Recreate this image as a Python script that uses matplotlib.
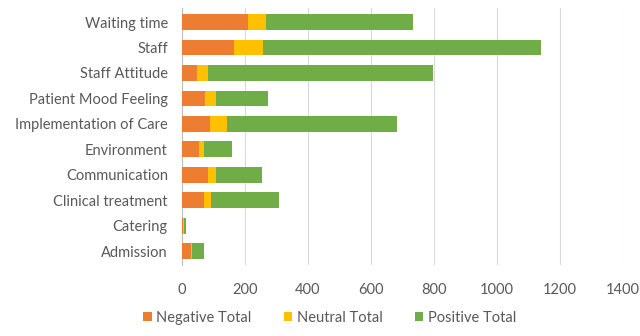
import numpy as np
import matplotlib
matplotlib.use('Agg')
import matplotlib.pyplot as plt

# Feedback categories (bottom to top as drawn)
categories = ['Admission', 'Catering', 'Clinical treatment', 'Communication',
              'Environment', 'Implementation of Care', 'Patient Mood Feeling',
              'Staff Attitude', 'Staff', 'Waiting time']
negative = [28, 5, 70, 82, 54, 89, 73, 49, 166, 210]
neutral = [5, 3, 24, 28, 17, 55, 37, 35, 92, 59]
positive = [37, 4, 214, 145, 87, 540, 164, 714, 881, 465]

xticks = [0, 200, 400, 600, 800, 1000, 1200, 1400]

plt.rcParams['font.family'] = ['Lato', 'DejaVu Sans']
text_color = '#595959'

fig = plt.figure(figsize=(6.4, 3.36), dpi=100)
ax = fig.add_axes([0.284, 0.211, 0.689, 0.765])

y = np.arange(len(categories))
neg = np.array(negative)
neu = np.array(neutral)
pos = np.array(positive)
h = 0.62
ax.barh(y, neg, height=h, color='#ED7D31', label='Negative Total', zorder=3)
ax.barh(y, neu, left=neg, height=h, color='#FFC000', label='Neutral Total', zorder=3)
ax.barh(y, pos, left=neg + neu, height=h, color='#70AD47', label='Positive Total', zorder=3)

ax.set_xlim(0, 1400)
ax.set_ylim(-0.55, len(categories) - 0.45)
ax.set_xticks(xticks)
ax.set_yticks(y)
ax.set_yticklabels(categories)
ax.grid(axis='x', color='#D9D9D9', linewidth=0.8, zorder=0)
for side in ['top', 'right', 'bottom']:
    ax.spines[side].set_visible(False)
ax.spines['left'].set_color('#BFBFBF')
ax.tick_params(axis='both', length=0, colors=text_color, labelsize=10.5)
ax.tick_params(axis='x', pad=13)
ax.tick_params(axis='y', pad=10)

fig.legend(loc='lower center', bbox_to_anchor=(0.515, -0.005), ncol=3, frameon=False,
           fontsize=10.5, handlelength=0.6, handleheight=0.6, handletextpad=0.3,
           columnspacing=2.2, labelcolor=text_color)

fig.savefig('out.png', dpi=100)
